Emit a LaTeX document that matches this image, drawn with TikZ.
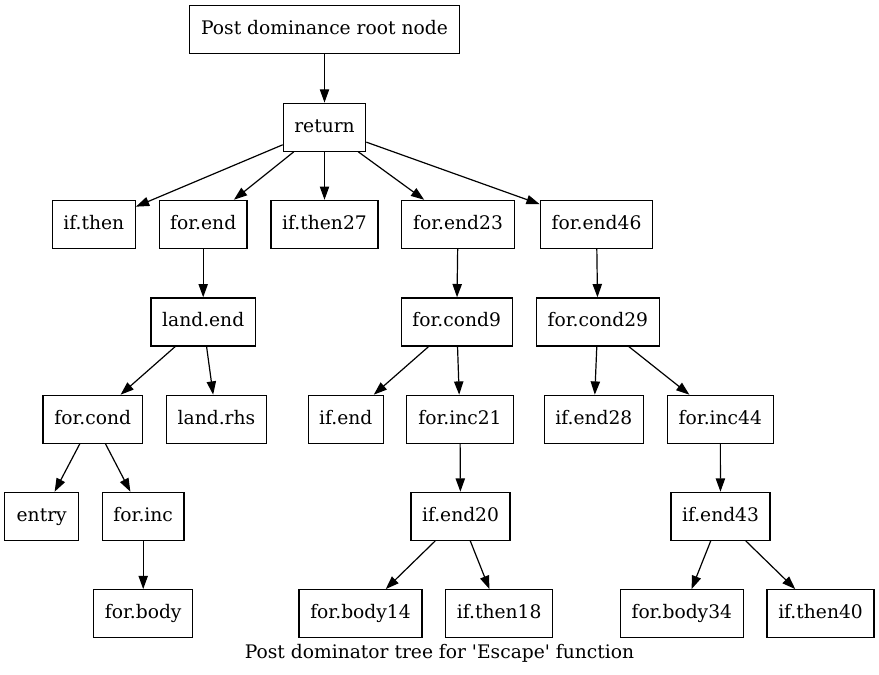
\documentclass[tikz,border=0pt]{standalone}
\usepackage{fontspec}
\setmainfont{DejaVu Serif}
\usetikzlibrary{arrows.meta}
\begin{document}
\begin{tikzpicture}[x=1pt,y=-1pt,
  box/.style={draw=black,line width=1.2pt,minimum height=48pt,inner sep=0pt,
    text height=14pt,text depth=4pt,font=\fontsize{18.67}{22}\selectfont},
  edge/.style={line width=1.2pt,-{Triangle[length=13.3pt,width=9.3pt]}}]
\useasboundingbox (0,0) rectangle (879,675);
% nodes
\node[box,minimum width=269.6pt] (root) at (324.5,29.5) {Post dominance root node};
\node[box,minimum width=82.4pt] (ret) at (324.5,127.2) {return};
\node[box,minimum width=83pt] (ifthen) at (93.8,224.4) {if.then};
\node[box,minimum width=87.7pt] (forend) at (203.2,224.4) {for.end};
\node[box,minimum width=107pt] (ifthen27) at (324.5,224.4) {if.then27};
\node[box,minimum width=112.6pt] (forend23) at (458,224.4) {for.end23};
\node[box,minimum width=112.4pt] (forend46) at (596.5,224.4) {for.end46};
\node[box,minimum width=104.3pt] (landend) at (203.2,321.9) {land.end};
\node[box,minimum width=111pt] (forcond9) at (456.7,321.9) {for.cond9};
\node[box,minimum width=123pt] (forcond29) at (597.8,321.9) {for.cond29};
\node[box,minimum width=99.3pt] (forcond) at (92.7,419.3) {for.cond};
\node[box,minimum width=100.4pt] (landrhs) at (216.5,419.3) {land.rhs};
\node[box,minimum width=75pt] (ifend) at (345.8,419.3) {if.end};
\node[box,minimum width=106.6pt] (forinc21) at (460,419.3) {for.inc21};
\node[box,minimum width=99pt] (ifend28) at (593.8,419.3) {if.end28};
\node[box,minimum width=106pt] (forinc44) at (720.3,419.3) {for.inc44};
\node[box,minimum width=74pt] (entry) at (41.7,516.3) {entry};
\node[box,minimum width=81.7pt] (forinc) at (143.2,516.3) {for.inc};
\node[box,minimum width=99pt] (ifend20) at (460.5,516.3) {if.end20};
\node[box,minimum width=99pt] (ifend43) at (720.5,516.3) {if.end43};
\node[box,minimum width=99pt] (forbody) at (143.2,613.7) {for.body};
\node[box,minimum width=123pt] (forbody14) at (360.5,613.7) {for.body14};
\node[box,minimum width=107pt] (ifthen18) at (499.2,613.7) {if.then18};
\node[box,minimum width=123pt] (forbody34) at (681.8,613.7) {for.body34};
\node[box,minimum width=107pt] (ifthen40) at (820.5,613.7) {if.then40};
\node[font=\fontsize{18.67}{22}\selectfont,inner sep=0pt,anchor=base] (caption) at (439.5,658)
  {Post dominator tree for \textquotesingle Escape\textquotesingle\ function};
% edges
\draw[edge] (root) -- (ret);
\draw[edge] (ret) -- (ifthen);
\draw[edge] (ret) -- (forend);
\draw[edge] (ret) -- (ifthen27);
\draw[edge] (ret) -- (forend23);
\draw[edge] (ret) -- (forend46);
\draw[edge] (forend) -- (landend);
\draw[edge] (landend) -- (forcond);
\draw[edge] (landend) -- (landrhs);
\draw[edge] (forcond) -- (entry);
\draw[edge] (forcond) -- (forinc);
\draw[edge] (forinc) -- (forbody);
\draw[edge] (forend23) -- (forcond9);
\draw[edge] (forcond9) -- (ifend);
\draw[edge] (forcond9) -- (forinc21);
\draw[edge] (forinc21) -- (ifend20);
\draw[edge] (ifend20) -- (forbody14);
\draw[edge] (ifend20) -- (ifthen18);
\draw[edge] (forend46) -- (forcond29);
\draw[edge] (forcond29) -- (ifend28);
\draw[edge] (forcond29) -- (forinc44);
\draw[edge] (forinc44) -- (ifend43);
\draw[edge] (ifend43) -- (forbody34);
\draw[edge] (ifend43) -- (ifthen40);
\end{tikzpicture}
\end{document}
